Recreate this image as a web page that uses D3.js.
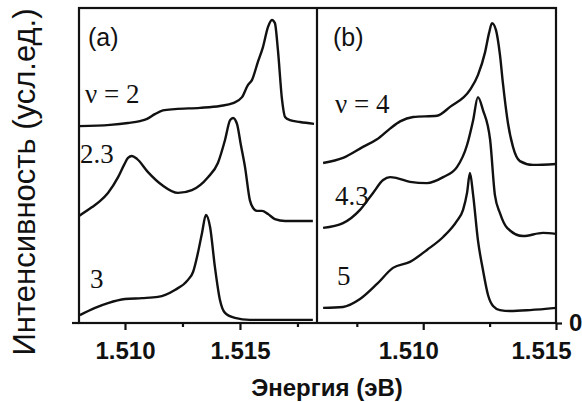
<!DOCTYPE html>
<html>
<head>
<meta charset="utf-8">
<script src="https://cdn.jsdelivr.net/npm/d3@7"></script>
<style>
  html, body { margin: 0; padding: 0; background: #fff; }
  svg { display: block; }
  .curve { fill: none; stroke: #111; stroke-width: 2.4; stroke-linejoin: round; }
  .frame { fill: none; stroke: #111; stroke-width: 2.2; }
  .tick text { font-family: "Liberation Sans", Arial, sans-serif; font-weight: bold; font-size: 24px; fill: #111; }
  .tick line { stroke: #111; stroke-width: 2.2; }
  .lbl { font-family: "Liberation Serif", "Times New Roman", serif; font-size: 27px; fill: #111; }
  .panel { font-family: "Liberation Sans", Arial, sans-serif; font-size: 25px; fill: #111; }
</style>
</head>
<body>
<div id="chart"></div>
<script>
// Spectra: [energy (eV), intensity (arb. units, offsets included)]
// panel (a)
const nu2 = [
  [1.5080, 6.25], [1.50935, 6.29], [1.51013, 6.35], [1.51065, 6.41], [1.51096, 6.48],
  [1.51130, 6.63], [1.51165, 6.75], [1.51217, 6.79], [1.51326, 6.83], [1.51413, 6.89],
  [1.51470, 6.98], [1.51509, 7.17], [1.51535, 7.56], [1.51552, 7.71], [1.51578, 8.29],
  [1.51600, 8.76], [1.51622, 9.40], [1.51639, 9.62], [1.51652, 9.52], [1.51665, 8.67],
  [1.51683, 7.08], [1.51696, 6.54], [1.51717, 6.44], [1.51761, 6.38], [1.51822, 6.32]
];
const nu23 = [
  [1.5080, 3.40], [1.50857, 3.68], [1.50891, 3.87], [1.50926, 4.13], [1.50970, 4.63],
  [1.50996, 5.02], [1.51013, 5.24], [1.51030, 5.30], [1.51052, 5.21], [1.51100, 4.79],
  [1.51161, 4.38], [1.51230, 4.13], [1.51291, 4.22], [1.51361, 4.63], [1.51404, 5.08],
  [1.51435, 5.81], [1.51457, 6.44], [1.51470, 6.51], [1.51487, 6.32], [1.51504, 5.65],
  [1.51522, 4.95], [1.51543, 3.90], [1.51557, 3.65], [1.51574, 3.56], [1.51596, 3.56],
  [1.51622, 3.46], [1.51652, 3.30], [1.51696, 3.24], [1.51817, 3.24]
];
const nu3 = [
  [1.50804, 0.25], [1.50870, 0.48], [1.50926, 0.63], [1.51000, 0.76], [1.51074, 0.79],
  [1.51143, 0.83], [1.51217, 1.05], [1.51274, 1.37], [1.51296, 1.62], [1.51317, 2.22],
  [1.51335, 2.86], [1.51352, 3.43], [1.51370, 3.05], [1.51391, 1.78], [1.51413, 0.73],
  [1.51435, 0.32], [1.51478, 0.16], [1.51543, 0.10], [1.51674, 0.10], [1.51817, 0.10]
];
// panel (b)
const nu4 = [
  [1.50623, 5.08], [1.50698, 5.24], [1.50773, 5.59], [1.50826, 5.83], [1.50875, 6.17],
  [1.50913, 6.40], [1.50962, 6.54], [1.51052, 6.58], [1.51101, 6.86], [1.51176, 7.40],
  [1.51206, 7.87], [1.51233, 8.60], [1.51248, 9.21], [1.51259, 9.52], [1.51274, 9.30],
  [1.51289, 8.51], [1.51300, 7.62], [1.51319, 6.35], [1.51338, 5.59], [1.51364, 5.14],
  [1.51413, 5.02], [1.51500, 5.05]
];
const nu43 = [
  [1.50623, 3.02], [1.50698, 3.17], [1.50762, 3.59], [1.50811, 4.13], [1.50849, 4.54],
  [1.50875, 4.63], [1.50901, 4.60], [1.50950, 4.48], [1.51014, 4.44], [1.51075, 4.63],
  [1.51127, 4.95], [1.51165, 5.65], [1.51188, 6.44], [1.51206, 7.17], [1.51225, 6.76],
  [1.51252, 5.81], [1.51270, 4.06], [1.51289, 3.49], [1.51316, 3.02], [1.51376, 2.76],
  [1.51451, 2.86], [1.51500, 2.83]
];
const nu5 = [
  [1.50623, 0.48], [1.50698, 0.51], [1.50762, 0.76], [1.50826, 1.24], [1.50886, 1.75],
  [1.50950, 1.94], [1.51014, 2.32], [1.51075, 2.73], [1.51127, 3.24], [1.51150, 3.59],
  [1.51165, 4.13], [1.51176, 4.76], [1.51188, 4.06], [1.51206, 2.63], [1.51225, 1.68],
  [1.51244, 0.89], [1.51263, 0.54], [1.51289, 0.41], [1.51327, 0.38], [1.51402, 0.41],
  [1.51500, 0.48]
];

const majorA = [1.510, 1.515], minorA = [1.5125, 1.5175];
const majorB = [1.510, 1.515], minorB = [1.5075, 1.5125];
const rightTicks = [0];

const W = 582, H = 402;
const svg = d3.select('#chart').append('svg')
  .attr('width', W).attr('height', H);

const xA = d3.scaleLinear().domain([1.508, 1.51835]).range([79, 317]);
const xB = d3.scaleLinear().domain([1.506, 1.515]).range([317, 556]);
const y  = d3.scaleLinear().domain([0, 10]).range([323, 8]);

function drawCurve(data, x) {
  const line = d3.line()
    .x(d => x(d[0]))
    .y(d => y(d[1]))
    .curve(d3.curveMonotoneX);
  svg.append('path').datum(data).attr('class', 'curve').attr('d', line);
}
[nu2, nu23, nu3].forEach(s => drawCurve(s, xA));
[nu4, nu43, nu5].forEach(s => drawCurve(s, xB));

// frame + divider
svg.append('rect').attr('class', 'frame')
  .attr('x', xA.range()[0]).attr('y', y.range()[1])
  .attr('width', xB.range()[1] - xA.range()[0])
  .attr('height', y.range()[0] - y.range()[1]);
svg.append('line').attr('class', 'frame')
  .attr('x1', xB.range()[0]).attr('x2', xB.range()[0])
  .attr('y1', y.range()[1]).attr('y2', y.range()[0]);
// small stub of the bottom axis left of the frame
svg.append('line').attr('class', 'frame')
  .attr('x1', xA.range()[0] - 7).attr('x2', xA.range()[0])
  .attr('y1', y(0)).attr('y2', y(0));

// bottom axes
const fmt = d3.format('.3f');
function bottomAxis(x, major, minor, dx) {
  const gM = svg.append('g').attr('transform', `translate(0,${y(0)})`)
    .call(d3.axisBottom(x).tickValues(major).tickFormat(fmt).tickSize(7).tickPadding(12));
  gM.select('.domain').remove();
  gM.selectAll('text').attr('dx', dx);
  const gm = svg.append('g').attr('transform', `translate(0,${y(0)})`)
    .call(d3.axisBottom(x).tickValues(minor).tickFormat('').tickSize(4));
  gm.select('.domain').remove();
}
bottomAxis(xA, majorA, minorA, 0);
bottomAxis(xB, majorB, minorB, -15);

// right axis "0"
const gR = svg.append('g').attr('transform', `translate(${xB.range()[1]},0)`)
  .call(d3.axisRight(y).tickValues(rightTicks).tickSize(6).tickPadding(7));
gR.select('.domain').remove();

// curve labels
const labels = [
  { t: 'ν = 2', x: 85,  y: 103 },
  { t: '2.3',   x: 80,  y: 163 },
  { t: '3',     x: 90,  y: 288 },
  { t: 'ν = 4', x: 335, y: 113 },
  { t: '4.3',   x: 335, y: 205 },
  { t: '5',     x: 337, y: 285 }
];
svg.selectAll('.lbl').data(labels).join('text')
  .attr('class', 'lbl')
  .attr('x', d => d.x).attr('y', d => d.y)
  .text(d => d.t);

svg.append('text').attr('class', 'panel').attr('x', 88).attr('y', 46).text('(a)');
svg.append('text').attr('class', 'panel').attr('x', 333).attr('y', 46).text('(b)');

// axis titles
svg.append('text')
  .attr('transform', 'translate(35,182) rotate(-90)')
  .attr('text-anchor', 'middle')
  .style('font-family', '"Liberation Sans", Arial, sans-serif')
  .style('font-size', '31px')
  .style('fill', '#111')
  .text('Интенсивность (усл.ед.)');

svg.append('text')
  .attr('x', 327).attr('y', 396)
  .attr('text-anchor', 'middle')
  .style('font-family', '"Liberation Sans", Arial, sans-serif')
  .style('font-size', '24px')
  .style('font-weight', 'bold')
  .style('fill', '#111')
  .text('Энергия (эВ)');
</script>
</body>
</html>
